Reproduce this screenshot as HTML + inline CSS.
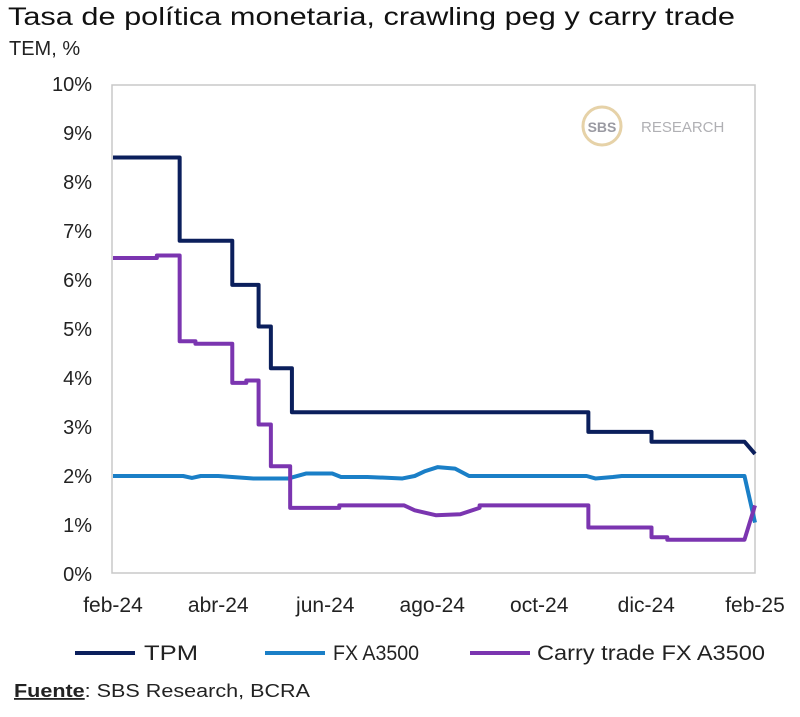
<!DOCTYPE html>
<html><head><meta charset="utf-8"><style>
body{margin:0;background:#fff;width:800px;height:717px;overflow:hidden;font-family:"Liberation Sans",sans-serif;}
svg{position:absolute;left:0;top:0}
</style></head><body>
<svg width="800" height="717">
<text x="8" y="25" font-size="25" fill="#111" textLength="727" lengthAdjust="spacingAndGlyphs">Tasa de política monetaria, crawling peg y carry trade</text>
<text x="9" y="55" font-size="20" fill="#222">TEM, %</text>
<rect x="112" y="85" width="643" height="488" fill="none" stroke="#c8c8c8" stroke-width="1.5"/>
<g>
<circle cx="602" cy="126" r="19" fill="none" stroke="#e6d2a8" stroke-width="3"/>
<text x="602" y="132" font-size="14" font-weight="bold" fill="#9a9aa2" text-anchor="middle">SBS</text>
<text x="641" y="132" font-size="15" fill="#b0b0b4">RESEARCH</text>
</g>
<g id="yt"></g><g id="xt"></g><g id="lines"></g>
<g>
<g><line x1="75" y1="653" x2="135" y2="653" stroke="#0b1f5c" stroke-width="4"/><text x="144" y="660" font-size="21" fill="#222" textLength="54" lengthAdjust="spacingAndGlyphs">TPM</text></g>
<g><line x1="265" y1="653" x2="325" y2="653" stroke="#1a7fc7" stroke-width="4"/><text x="333" y="660" font-size="21" fill="#222" textLength="86" lengthAdjust="spacingAndGlyphs">FX A3500</text></g>
<g><line x1="470" y1="653" x2="530" y2="653" stroke="#7b35b0" stroke-width="4"/><text x="537" y="660" font-size="21" fill="#222" textLength="228" lengthAdjust="spacingAndGlyphs">Carry trade FX A3500</text></g>
</g>
<text x="14" y="697" font-size="18" fill="#222" textLength="296" lengthAdjust="spacingAndGlyphs"><tspan font-weight="bold" text-decoration="underline">Fuente</tspan>: SBS Research, BCRA</text>
</svg>
<script>
const yTicks=[0,1,2,3,4,5,6,7,8,9,10];
const xLabels=["feb-24","abr-24","jun-24","ago-24","oct-24","dic-24","feb-25"];
const xLabelDays=[0,60,121,182,243,304,366];
const tpmDays=[0,38,38,68,68,83,83,90,90,102,102,271,271,307,307,360,366];
const tpmVals=[8.5,8.5,6.8,6.8,5.9,5.9,5.05,5.05,4.2,4.2,3.3,3.3,2.9,2.9,2.7,2.7,2.45];
const fxDays=[0,40,45,50,60,80,85,100,110,125,130,145,165,172,178,185,195,203,270,275,285,290,360,366];
const fxVals=[2.0,2.0,1.96,2.0,2.0,1.95,1.95,1.95,2.05,2.05,1.98,1.98,1.95,2.0,2.1,2.18,2.15,2.0,2.0,1.95,1.98,2.0,2.0,1.05];
const carryDays=[0,25,25,38,38,47,47,68,68,76,76,83,83,90,90,101,101,129,129,166,172,184,198,209,209,271,271,307,307,316,316,360,366];
const carryVals=[6.45,6.45,6.5,6.5,4.75,4.75,4.7,4.7,3.9,3.9,3.95,3.95,3.05,3.05,2.2,2.2,1.35,1.35,1.4,1.4,1.3,1.2,1.22,1.35,1.4,1.4,0.95,0.95,0.75,0.75,0.7,0.7,1.4];
const NS="http://www.w3.org/2000/svg";
const X0=113,X1=755,Y0=574,PPU=49;
function xs(d){return X0+(X1-X0)*d/366;}
function ys(v){return Y0-v*PPU;}
const yt=document.getElementById('yt');
yTicks.forEach(v=>{const t=document.createElementNS(NS,'text');


t.setAttribute('x',92);t.setAttribute('y',ys(v)+7);t.setAttribute('font-size','20');t.setAttribute('fill','#222');t.setAttribute('text-anchor','end');t.textContent=v+'%';yt.appendChild(t);});
const xt=document.getElementById('xt');
xLabels.forEach((l,i)=>{const t=document.createElementNS(NS,'text');


t.setAttribute('x',xs(xLabelDays[i]));t.setAttribute('y',612);t.setAttribute('font-size','21');t.setAttribute('fill','#222');t.setAttribute('text-anchor','middle');t.textContent=l;xt.appendChild(t);});
const lg=document.getElementById('lines');
function draw(days,vals,color,name){const p=document.createElementNS(NS,'polyline');


p.setAttribute('points',days.map((d,i)=>xs(d)+','+ys(vals[i])).join(' '));
p.setAttribute('fill','none');p.setAttribute('stroke',color);p.setAttribute('stroke-width','4');p.setAttribute('stroke-linejoin','round');lg.appendChild(p);}
draw(fxDays,fxVals,'#1a7fc7','fx-a3500-line');
draw(carryDays,carryVals,'#7b35b0','carry-trade-line');
draw(tpmDays,tpmVals,'#0b1f5c','tpm-line');
</script>
</body></html>
